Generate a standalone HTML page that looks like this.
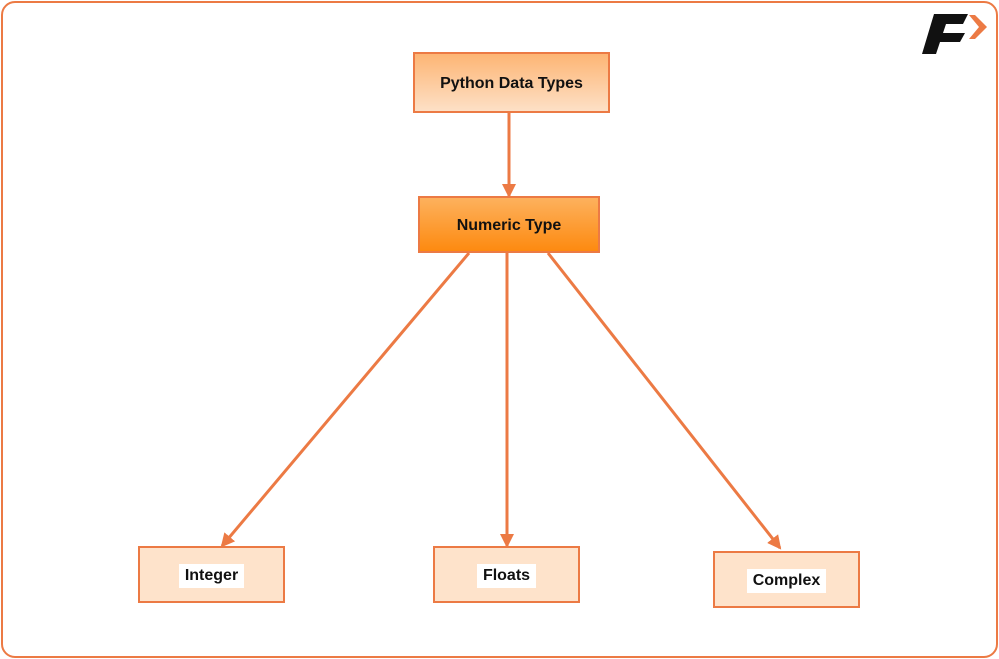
<!DOCTYPE html>
<html><head><style>
body{margin:0;width:999px;height:659px;background:#fff;position:relative;overflow:hidden;font-family:"Liberation Sans",sans-serif;}
.frame{position:absolute;left:1px;top:1px;width:993px;height:653px;border:2px solid #ec7a44;border-radius:14px;}
.b{position:absolute;box-sizing:border-box;border:2px solid #ec7a44;display:flex;align-items:center;justify-content:center;font-weight:bold;font-size:16px;color:#111;padding-top:3px;}
.lbl{background:#fff;padding:3px 6px;}
</style></head><body>
<div class="frame"></div>
<svg style="position:absolute;left:0;top:0" width="999" height="659">
<defs><marker id="m" markerWidth="14" markerHeight="14" refX="12" refY="7" orient="auto" markerUnits="userSpaceOnUse"><path d="M0,0 L14,7 L0,14 z" fill="#ec7a44"/></marker></defs>
<g stroke="#ec7a44" stroke-width="3" fill="none">
<line x1="509" y1="112" x2="509" y2="196" marker-end="url(#m)"/>
<line x1="469" y1="253" x2="222" y2="546" marker-end="url(#m)"/>
<line x1="507" y1="253" x2="507" y2="546" marker-end="url(#m)"/>
<line x1="548" y1="253" x2="780" y2="548" marker-end="url(#m)"/>
</g>
<path d="M934,14 L968,14 L963,24 L946,24 L943,33 L965,33 L960,42 L940,42 L936,54 L922,54 Z" fill="#111"/>
<path d="M969,15 L975,15 L987,27 L975,39 L969,39 L979,27 Z" fill="#ec7a44"/>
</svg>
<div class="b" style="left:413px;top:52px;width:197px;height:61px;background:linear-gradient(#fdb574,#fde0c6)">Python Data Types</div>
<div class="b" style="left:418px;top:196px;width:182px;height:57px;background:linear-gradient(#fdb15d,#fd8a10)">Numeric Type</div>
<div class="b" style="left:138px;top:546px;width:147px;height:57px;background:#fee3cb"><span class="lbl">Integer</span></div>
<div class="b" style="left:433px;top:546px;width:147px;height:57px;background:#fee3cb"><span class="lbl">Floats</span></div>
<div class="b" style="left:713px;top:551px;width:147px;height:57px;background:#fee3cb"><span class="lbl">Complex</span></div>
</body></html>
